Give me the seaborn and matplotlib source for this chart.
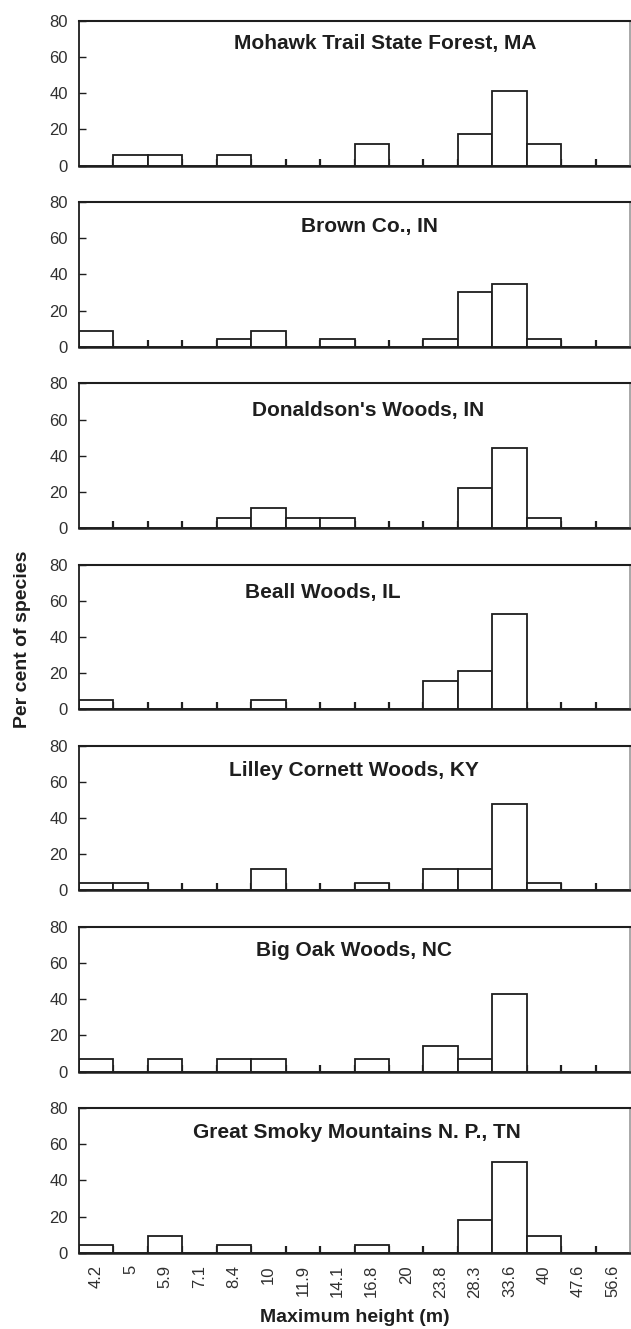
import matplotlib
matplotlib.use("Agg")
import matplotlib.pyplot as plt
from matplotlib.ticker import FixedLocator
import seaborn as sns
import pandas as pd

# Height classes (m) shared by every site
height_classes = ["4.2", "5", "5.9", "7.1", "8.4", "10", "11.9", "14.1",
                  "16.8", "20", "23.8", "28.3", "33.6", "40", "47.6", "56.6"]

# Per cent of species in each height class, one list per site
mohawk = [0, 5.9, 5.9, 0, 5.9, 0, 0, 0, 11.8, 0, 0, 17.6, 41.2, 11.8, 0, 0]
brown = [8.7, 0, 0, 0, 4.3, 8.7, 0, 4.3, 0, 0, 4.3, 30.4, 34.8, 4.3, 0, 0]
donaldson = [0, 0, 0, 0, 5.6, 11.1, 5.6, 5.6, 0, 0, 0, 22.2, 44.4, 5.6, 0, 0]
beall = [5.3, 0, 0, 0, 0, 5.3, 0, 0, 0, 0, 15.8, 21.1, 52.6, 0, 0, 0]
lilley = [4, 4, 0, 0, 0, 12, 0, 0, 4, 0, 12, 12, 48, 4, 0, 0]
big_oak = [7.1, 0, 7.1, 0, 7.1, 7.1, 0, 0, 7.1, 0, 14.3, 7.1, 42.9, 0, 0, 0]
smoky = [4.5, 0, 9.1, 0, 4.5, 0, 0, 0, 4.5, 0, 0, 18.2, 50.0, 9.1, 0, 0]

site_names = ["Mohawk Trail State Forest, MA", "Brown Co., IN",
              "Donaldson's Woods, IN", "Beall Woods, IL",
              "Lilley Cornett Woods, KY", "Big Oak Woods, NC",
              "Great Smoky Mountains N. P., TN"]
site_values = [mohawk, brown, donaldson, beall, lilley, big_oak, smoky]

y_ticks = [0, 20, 40, 60, 80]

# panel-name placement: centre x (px) and drop below the top spine (px)
name_x_px = [385, 369, 368, 323, 354, 354, 357]
name_drop_px = [23, 24, 27, 28, 25, 23, 24]

sns.set_theme(style="white")
plt.rcParams["font.family"] = ["Liberation Sans", "DejaVu Sans"]

W, H = 631, 1329
fig = plt.figure(figsize=(W / 100, H / 100), dpi=100)

left_px, right_px = 79, 630
first_top_px, step_px, panel_h_px = 21, 181.2, 144.5

ink = "#1e1e1e"
label_grey = "#303030"
n_sites = len(site_names)
for i, (name, vals) in enumerate(zip(site_names, site_values)):
    top = first_top_px + i * step_px
    ax = fig.add_axes([left_px / W, 1 - (top + panel_h_px) / H,
                       (right_px - left_px) / W, panel_h_px / H])
    df = pd.DataFrame({"height": height_classes, "pct": vals})
    sns.barplot(data=df, x="height", y="pct", order=height_classes,
                width=1.0, color="white", edgecolor=ink, linewidth=1.3,
                saturation=1, ax=ax)
    ax.set_xlim(-0.5, len(height_classes) - 0.5)
    ax.set_ylim(0, 80)
    ax.set_yticks(y_ticks)
    ax.set_yticklabels([str(t) for t in y_ticks], fontsize=12,
                       color=label_grey)
    ax.tick_params(axis="y", direction="in", length=5, width=1.0,
                   color=ink, pad=8, left=True)
    # category labels at bin centres, short marks between bins
    ax.set_xticks(range(len(height_classes)))
    ax.xaxis.set_minor_locator(FixedLocator(
        [k + 0.5 for k in range(len(height_classes) - 1)]))
    ax.tick_params(axis="x", which="major", length=0, pad=9)
    ax.tick_params(axis="x", which="minor", direction="in", length=5,
                   width=1.6, color=ink, bottom=True)
    if i == n_sites - 1:
        ax.set_xticklabels(height_classes, rotation=90, fontsize=12,
                           color=label_grey)
        ax.set_xlabel("Maximum height (m)", fontsize=14, fontweight="bold",
                      color=ink, labelpad=8)
    else:
        ax.set_xticklabels([])
        ax.set_xlabel("")
    ax.set_ylabel("")
    for side in ("left", "top", "bottom"):
        ax.spines[side].set_visible(True)
        ax.spines[side].set_color(ink)
    ax.spines["left"].set_linewidth(1.3)
    ax.spines["top"].set_linewidth(1.5)
    ax.spines["bottom"].set_linewidth(1.8)
    ax.spines["right"].set_color("#999999")
    ax.spines["right"].set_linewidth(1.2)
    fig.text(name_x_px[i] / W, 1 - (top + name_drop_px[i]) / H, name,
             ha="center", va="center", fontsize=15, fontweight="bold",
             color=ink)

fig.text(23 / W, 1 - 639 / H, "Per cent of species", rotation=90,
         ha="center", va="center", fontsize=14, fontweight="bold", color=ink)

fig.savefig("out.png", dpi=100, facecolor="white")
